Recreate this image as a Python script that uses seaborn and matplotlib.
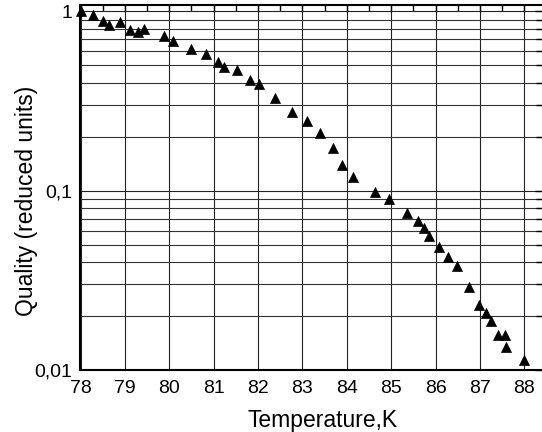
import numpy as np
import pandas as pd
import matplotlib
matplotlib.use("Agg")
import matplotlib.pyplot as plt
import matplotlib.ticker as mticker
import seaborn as sns

# Datos
temperatura = [78.00, 78.28, 78.51, 78.64, 78.89, 79.11, 79.29, 79.42, 79.88, 80.09,
               80.48, 80.82, 81.10, 81.24, 81.52, 81.82, 82.03, 82.38, 82.76, 83.10,
               83.39, 83.68, 83.90, 84.15, 84.63, 84.95, 85.35, 85.61, 85.75, 85.86,
               86.09, 86.28, 86.49, 86.76, 86.99, 87.13, 87.26, 87.41, 87.57, 87.59,
               87.99]
calidad = [1.00, 0.96, 0.885, 0.838, 0.874, 0.786, 0.769, 0.799, 0.727, 0.682,
           0.621, 0.580, 0.521, 0.491, 0.474, 0.417, 0.396, 0.328, 0.275, 0.245,
           0.209, 0.174, 0.140, 0.120, 0.0985, 0.0899, 0.0750, 0.0680, 0.0619, 0.0558,
           0.0486, 0.0427, 0.0382, 0.0292, 0.0229, 0.0209, 0.0187, 0.0157, 0.0157, 0.0134,
           0.0114]
xticks = [78, 79, 80, 81, 82, 83, 84, 85, 86, 87, 88]

df = pd.DataFrame({"T": temperatura, "Q": calidad})

sns.set_theme(style="white")
plt.rcParams['font.family'] = ['Liberation Sans', 'DejaVu Sans']
plt.rcParams['text.color'] = 'black'
plt.rcParams['axes.labelcolor'] = 'black'

fig = plt.figure(figsize=(5.42, 4.32), dpi=100)
ax = fig.add_axes([80.5 / 542, 62 / 432, 1 - 80.5 / 542, 365 / 432])

sns.scatterplot(data=df, x="T", y="Q", marker="^", s=52, color="black",
                edgecolor="black", linewidth=0.5, ax=ax, zorder=3, clip_on=False)

ax.set_yscale("log")
ax.set_xlim(78, 88.4)
ax.set_ylim(0.01, 1.087)

ax.set_xticks(xticks)
ax.xaxis.set_minor_locator(mticker.MultipleLocator(0.5))
ax.yaxis.set_major_locator(mticker.FixedLocator([0.01, 0.1, 1]))
ax.yaxis.set_minor_locator(mticker.LogLocator(base=10, subs=np.arange(2, 10)))
ax.yaxis.set_major_formatter(mticker.FuncFormatter(
    lambda v, p: {0.01: "0,01", 0.1: "0,1", 1: "1"}.get(round(v, 2), "")))
ax.yaxis.set_minor_formatter(mticker.NullFormatter())

# Rejilla
ax.grid(True, which="major", axis="both", color="#222222", linewidth=0.8)
ax.grid(True, which="minor", axis="y", color="#333333", linewidth=0.8)

ax.tick_params(axis="both", which="both", direction="in", top=True, right=True,
               colors="black", labelcolor="black", labelsize=14)
ax.tick_params(axis="both", which="major", length=5, width=1)
ax.tick_params(axis="x", which="minor", length=4, width=1)
ax.tick_params(axis="y", which="minor", length=4, width=1)
ax.tick_params(axis="x", pad=7)
ax.tick_params(axis="y", pad=6)

for lado in ["left", "bottom", "top"]:
    ax.spines[lado].set_color("black")
    ax.spines[lado].set_linewidth(1.5)
ax.spines["right"].set_visible(False)

ax.set_xlabel("Temperature,K", fontsize=16.5)
ax.set_ylabel("Quality (reduced units)", fontsize=16.5)
ax.xaxis.set_label_coords(0.525, -0.107)
ax.yaxis.set_label_coords(-0.092, 0.463)

fig.savefig("out.png", dpi=100)
